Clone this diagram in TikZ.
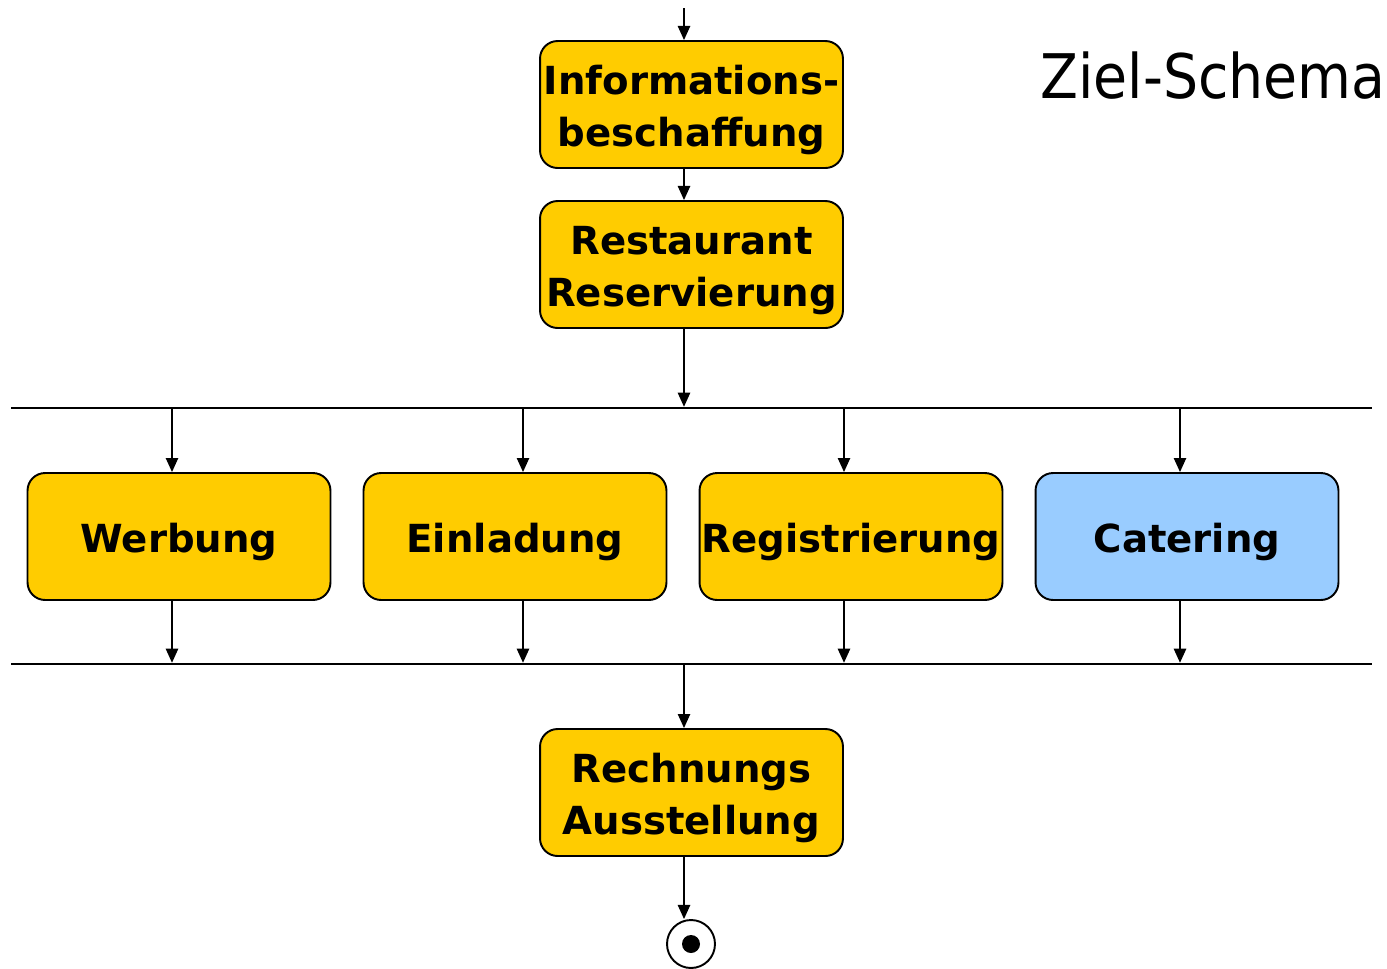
\documentclass[tikz,border=0pt]{standalone}
\usepackage{fontspec}
\setmainfont{DejaVu Sans}
\newfontfamily\titlefont[FakeStretch=0.9]{DejaVu Sans}
\usetikzlibrary{arrows.meta,positioning}
\definecolor{actyellow}{HTML}{FFCC00}
\definecolor{actblue}{HTML}{99CCFF}
\tikzset{
  act/.style={draw=black, line width=1.1pt, fill=actyellow, rounded corners=10pt,
              minimum width=6.06cm, minimum height=2.54cm, align=center,
              font=\fontsize{22}{29.6}\selectfont\bfseries, inner sep=0pt,
              text height=23.5pt, text depth=5.2pt},
  acttwo/.style={act, text height=53.1pt},
  arr/.style={-{Triangle[width=7pt,length=8pt]}, line width=0.9pt},
  bar/.style={fill=black, minimum width=27.22cm, minimum height=1pt, inner sep=0pt},
}

\begin{document}
\begin{tikzpicture}[x=0.02cm, y=-0.02cm]
  \useasboundingbox (0,0) rectangle (1387,968);
  \node[anchor=base west, inner sep=0pt, font=\titlefont\fontsize{35}{40}\selectfont] (title) at (1040,98) {Ziel-Schema};
  \coordinate (start) at (684,8);
  \node[acttwo] (info) at (691.5,104.5) {Informations-\\beschaffung};
  \node[acttwo] (rest) at (691.5,264.5) {Restaurant\\Reservierung};
  \node[bar] (fork) at (691.5,408) {};
  \node[act] (werb) at (179,536.5) {Werbung};
  \node[act] (einl) at (515,536.5) {Einladung};
  \node[act] (reg)  at (851,536.5) {Registrierung};
  \node[act, fill=actblue] (cat) at (1187,536.5) {Catering};
  \node[bar] (join) at (691.5,664) {};
  \node[acttwo] (rech) at (691.5,792.5) {Rechnungs\\Ausstellung};
  \node[draw, circle, line width=1.1pt, minimum size=0.96cm, inner sep=0pt] (final) at (691,944) {};
  \node[fill, circle, minimum size=0.36cm, inner sep=0pt] (finaldot) at (final) {};

  \draw[arr] (start) -- (info.north -| start);
  \draw[arr] (info.south -| start) -- (rest.north -| start);
  \draw[arr] (rest.south -| start) -- (fork.north -| start);
  \foreach \n/\x in {werb/172, einl/523, reg/844, cat/1180}{
    \coordinate (\n x) at (\x,0);
    \draw[arr] (fork.south -| \n x) -- (\n.north -| \n x);
    \draw[arr] (\n.south -| \n x) -- (join.north -| \n x);
  }
  \draw[arr] (join.south -| start) -- (rech.north -| start);
  \draw[arr] (rech.south -| start) -- (final.north -| start);
\end{tikzpicture}
\end{document}
